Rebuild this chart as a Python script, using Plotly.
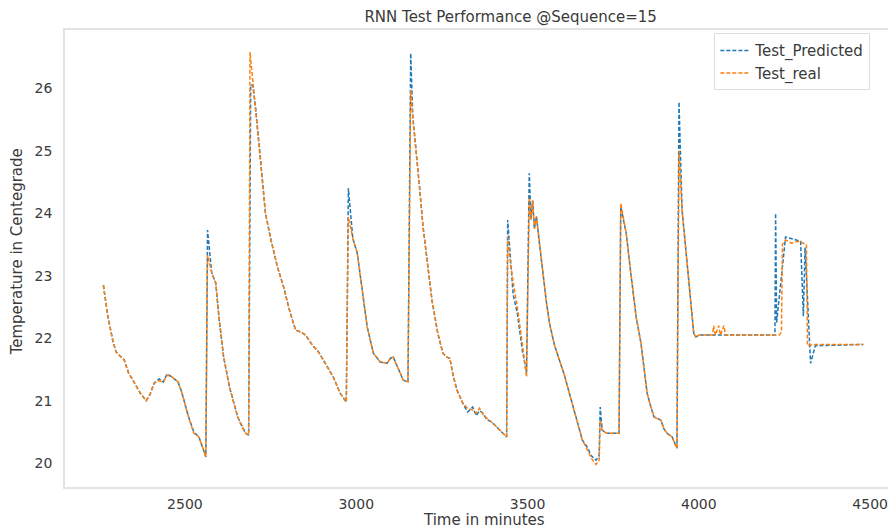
import plotly.graph_objects as go

# ---- data ----
real_x = [2262, 2275, 2290, 2299, 2310, 2323, 2335, 2352, 2370, 2387, 2398, 2410, 2425, 2437,
          2448, 2462, 2480, 2490, 2497, 2510, 2526, 2541, 2552, 2561, 2566, 2578, 2590, 2600,
          2613, 2630, 2654, 2665, 2677, 2686, 2690, 2698, 2706, 2720, 2735, 2750, 2770, 2788,
          2805, 2823, 2838, 2852, 2872, 2890, 2904, 2918, 2933, 2953, 2971, 2977, 2990, 3003,
          3018, 3032, 3050, 3070, 3090, 3100, 3108, 3118, 3128, 3137, 3151, 3159, 3165, 3172,
          3185, 3195, 3210, 3221, 3238, 3253, 3263, 3273, 3283, 3294, 3311, 3325, 3340, 3350,
          3360, 3370, 3381, 3395, 3410, 3425, 3439, 3442, 3450, 3458, 3470, 3485, 3497, 3505,
          3510, 3515, 3520, 3526, 3535, 3544, 3554, 3564, 3578, 3593, 3608, 3622, 3635, 3645,
          3660, 3675, 3686, 3700, 3709, 3712, 3718, 3730, 3750, 3767, 3772, 3788, 3800, 3817,
          3831, 3849, 3860, 3869, 3889, 3898, 3907, 3922, 3936, 3942, 3951, 3960, 3971, 3985,
          3991, 4000, 4035, 4040, 4043, 4048, 4058, 4063, 4073, 4078, 4100, 4235, 4241, 4244,
          4253, 4270, 4290, 4314, 4317, 4340, 4480]
real_y = [22.85, 22.35, 21.95, 21.78, 21.72, 21.65, 21.45, 21.28, 21.12, 21.00, 21.10, 21.28, 21.32, 21.30,
          21.41, 21.38, 21.30, 21.15, 21.00, 20.75, 20.48, 20.42, 20.25, 20.10, 23.33, 23.05, 22.88, 22.30,
          21.70, 21.22, 20.74, 20.60, 20.48, 20.45, 26.58, 26.10, 25.70, 24.90, 24.00, 23.60, 23.14, 22.82,
          22.45, 22.13, 22.10, 22.05, 21.89, 21.78, 21.65, 21.52, 21.38, 21.12, 20.98, 23.94, 23.60, 23.36,
          22.70, 22.18, 21.76, 21.62, 21.60, 21.68, 21.70, 21.57, 21.45, 21.33, 21.30, 25.97, 25.55, 25.17,
          24.40, 23.78, 23.10, 22.61, 22.08, 21.76, 21.70, 21.68, 21.40, 21.17, 20.96, 20.88, 20.85, 20.80,
          20.88, 20.78, 20.72, 20.66, 20.58, 20.50, 20.42, 23.62, 23.20, 22.90, 22.50, 21.90, 21.38, 24.25,
          23.90, 24.20, 23.75, 23.95, 23.50, 23.04, 22.62, 22.24, 21.90, 21.65, 21.40, 21.12, 20.85, 20.64,
          20.37, 20.21, 20.08, 19.98, 20.05, 20.69, 20.53, 20.48, 20.48, 20.48, 24.16, 23.68, 23.10, 22.34,
          21.92, 21.12, 20.90, 20.74, 20.69, 20.55, 20.48, 20.42, 20.24, 25.00, 24.05, 23.50, 22.82, 22.08,
          22.02, 22.05, 22.05, 22.05, 22.20, 22.05, 22.20, 22.05, 22.20, 22.05, 22.05, 22.05, 22.10, 23.50,
          23.57, 23.52, 23.55, 23.50, 21.88, 21.90, 21.90]

pred_x = [2262, 2275, 2290, 2299, 2310, 2323, 2335, 2352, 2370, 2387, 2398, 2410, 2425, 2437,
          2448, 2462, 2480, 2490, 2497, 2510, 2526, 2541, 2552, 2561, 2566, 2578, 2590, 2600,
          2613, 2630, 2654, 2665, 2677, 2686, 2692, 2698, 2706, 2720, 2735, 2750, 2770, 2788,
          2805, 2823, 2838, 2852, 2872, 2890, 2904, 2918, 2933, 2953, 2971, 2977, 2990, 3003,
          3018, 3032, 3050, 3070, 3090, 3100, 3108, 3118, 3128, 3137, 3151, 3159, 3165, 3172,
          3185, 3195, 3210, 3221, 3238, 3253, 3263, 3273, 3283, 3294, 3311, 3325, 3340, 3350,
          3360, 3370, 3381, 3395, 3410, 3425, 3439, 3442, 3450, 3458, 3470, 3485, 3497, 3505,
          3510, 3515, 3520, 3526, 3535, 3544, 3554, 3564, 3578, 3593, 3608, 3622, 3635, 3645,
          3660, 3675, 3686, 3700, 3709, 3712, 3718, 3730, 3750, 3767, 3772, 3788, 3800, 3817,
          3831, 3849, 3860, 3869, 3889, 3898, 3907, 3922, 3936, 3942, 3951, 3960, 3971, 3985,
          3991, 4000, 4222, 4224, 4227, 4253, 4297, 4305, 4310, 4326, 4340, 4480]
pred_y = [22.85, 22.35, 21.95, 21.78, 21.72, 21.65, 21.45, 21.28, 21.12, 21.00, 21.10, 21.28, 21.35, 21.30,
          21.43, 21.38, 21.30, 21.15, 21.00, 20.75, 20.50, 20.42, 20.25, 20.10, 23.73, 23.05, 22.88, 22.30,
          21.70, 21.22, 20.74, 20.62, 20.48, 20.45, 26.05, 26.05, 25.70, 24.90, 24.00, 23.60, 23.14, 22.82,
          22.45, 22.13, 22.10, 22.05, 21.89, 21.78, 21.65, 21.52, 21.38, 21.12, 20.98, 24.40, 23.60, 23.36,
          22.70, 22.18, 21.76, 21.62, 21.60, 21.68, 21.70, 21.57, 21.45, 21.33, 21.30, 26.56, 25.55, 25.17,
          24.40, 23.78, 23.10, 22.61, 22.08, 21.76, 21.70, 21.68, 21.40, 21.17, 20.96, 20.82, 20.90, 20.76,
          20.84, 20.80, 20.70, 20.66, 20.58, 20.50, 20.42, 23.89, 23.25, 22.70, 22.40, 21.80, 21.45, 24.64,
          23.90, 24.20, 23.75, 23.95, 23.50, 23.04, 22.62, 22.24, 21.90, 21.65, 21.40, 21.12, 20.85, 20.64,
          20.37, 20.25, 20.12, 20.05, 20.12, 20.90, 20.53, 20.48, 20.48, 20.48, 24.10, 23.68, 23.10, 22.34,
          21.92, 21.12, 20.90, 20.74, 20.69, 20.55, 20.48, 20.42, 20.24, 25.78, 24.05, 23.50, 22.82, 22.08,
          22.02, 22.05, 22.05, 24.00, 22.25, 23.62, 23.55, 22.35, 23.45, 21.60, 21.88, 21.90]

x_ticks = [2500, 3000, 3500, 4000, 4500]
y_ticks = [20, 21, 22, 23, 24, 25, 26]

TXT = "#3a3a3a"
FONT = "DejaVu Sans"

fig = go.Figure()
fig.add_trace(go.Scatter(x=pred_x, y=pred_y, mode="lines", name="Test_Predicted",
                         line=dict(color="#1f77b4", width=1.5, dash="4px,2px")))
fig.add_trace(go.Scatter(x=real_x, y=real_y, mode="lines", name="Test_real",
                         line=dict(color="#ff7f0e", width=1.5, dash="4px,2px")))

fig.update_layout(
    width=888, height=530,
    margin=dict(l=65, r=0, t=30, b=43),
    paper_bgcolor="white", plot_bgcolor="white",
    font=dict(family=FONT, size=15, color=TXT),
    title=dict(text="RNN Test Performance @Sequence=15", x=0.575, xanchor="center",
               y=1 - 17 / 530, yanchor="middle", font=dict(size=15, color=TXT)),
    showlegend=True,
    legend=dict(x=0.789, y=0.993, xanchor="left", yanchor="top",
                bordercolor="#dddddd", borderwidth=1, bgcolor="rgba(255,255,255,0.8)",
                font=dict(size=15, color=TXT), tracegroupgap=0, itemwidth=30),
    xaxis=dict(range=[2150, 4552], tickvals=x_ticks, ticks="", showgrid=False, zeroline=False,
               showline=True, linecolor="#e3e3e3", linewidth=1.5, mirror=True,
               ticklabelstandoff=3, tickfont=dict(size=14, color=TXT)),
    yaxis=dict(range=[19.62, 26.93], tickvals=y_ticks, ticks="", showgrid=False, zeroline=False,
               showline=True, linecolor="#e3e3e3", linewidth=1.5,
               ticklabelstandoff=8, tickfont=dict(size=14, color=TXT)),
    annotations=[
        dict(text="Time in minutes", xref="paper", yref="paper", x=0.509, y=-0.072,
             xanchor="center", yanchor="middle", showarrow=False, font=dict(size=15, color=TXT)),
        dict(text="Temperature in Centegrade", xref="paper", yref="paper", x=-0.058, y=0.514,
             xanchor="center", yanchor="middle", textangle=-90, showarrow=False,
             font=dict(size=15, color=TXT)),
    ],
)

fig.write_html("out.html", config={"displayModeBar": False},
               post_script="document.body.style.margin='0';document.body.style.overflow='hidden';")
